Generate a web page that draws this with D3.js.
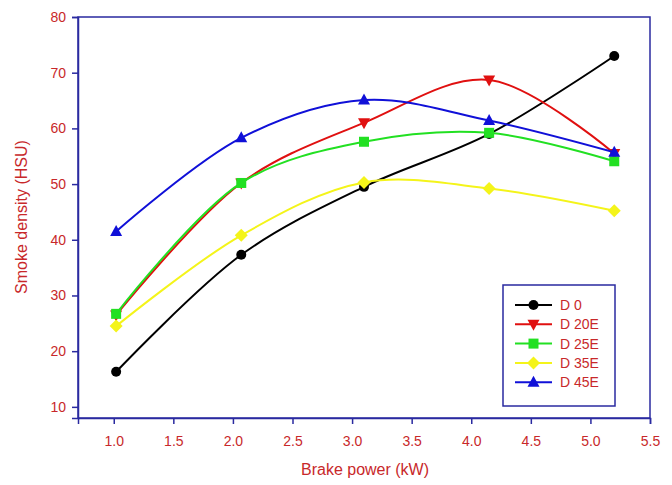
<!DOCTYPE html>
<html>
<head>
<meta charset="utf-8">
<script src="https://cdn.jsdelivr.net/npm/d3@7"></script>
<style>
  body { margin: 0; background: #fff; }
  text { font-family: "Liberation Sans", Arial, sans-serif; }
</style>
</head>
<body>
<svg id="chart"></svg>
<script>
// data
let power = [1.02, 2.07, 3.1, 4.15, 5.2]
let d0   = [16.3, 37.3, 49.5, 59.0, 73.0]
let d20e = [26.5, 50.2, 61.0, 68.7, 55.5]
let d25e = [26.7, 50.2, 57.6, 59.2, 54.1]
let d35e = [24.5, 40.8, 50.3, 49.2, 45.2]
let d45e = [41.5, 58.3, 65.1, 61.4, 55.7]
let series_names = ["D 0", "D 20E", "D 25E", "D 35E", "D 45E"]
let x_ticks = [1.0, 1.5, 2.0, 2.5, 3.0, 3.5, 4.0, 4.5, 5.0, 5.5]
let y_ticks = [10, 20, 30, 40, 50, 60, 70, 80]

let w = 672, h = 485
let axis_col = "#2a2aa0"
let label_col = "#c8282a"

let svg = d3.select("#chart").attr("width", w).attr("height", h)

let x = d3.scaleLinear().domain([0.7, 5.5]).range([78, 650])
let y = d3.scaleLinear().domain([8, 80]).range([418, 17])

// frame
svg.append("rect")
   .attr("x", x(0.7)).attr("y", y(80))
   .attr("width", x(5.5) - x(0.7)).attr("height", y(8) - y(80))
   .attr("fill", "none").attr("stroke", axis_col).attr("stroke-width", 1.5)

// axes
let x_axis = svg.append("g").attr("transform", "translate(0," + y(8) + ")")
                .call(d3.axisBottom(x).tickValues(x_ticks).tickFormat(d3.format(".1f")).tickSize(6).tickPadding(12))
let y_axis = svg.append("g").attr("transform", "translate(" + x(0.7) + ",0)")
                .call(d3.axisLeft(y).tickValues(y_ticks).tickSize(6).tickPadding(6))
for (let ax of [x_axis, y_axis]) {
  ax.select(".domain").attr("stroke", axis_col).attr("stroke-width", 1.5)
  ax.selectAll(".tick line").attr("stroke", axis_col).attr("stroke-width", 1.5)
  ax.selectAll(".tick text").attr("fill", label_col).attr("font-size", 14)
}

// axis titles
svg.append("text")
   .attr("x", 365).attr("y", 475)
   .attr("text-anchor", "middle").attr("font-size", 16).attr("fill", label_col)
   .text("Brake power (kW)")
svg.append("text")
   .attr("transform", "translate(27,217) rotate(-90)")
   .attr("text-anchor", "middle").attr("font-size", 16).attr("fill", label_col)
   .text("Smoke density (HSU)")

let all_series = [
  {name: series_names[0], vals: d0,   col: "#000000", sym: "circle"},
  {name: series_names[1], vals: d20e, col: "#e01010", sym: "down"},
  {name: series_names[2], vals: d25e, col: "#22e022", sym: "square"},
  {name: series_names[3], vals: d35e, col: "#f4f41a", sym: "diamond"},
  {name: series_names[4], vals: d45e, col: "#1010d8", sym: "up"}
]

let line = d3.line()
             .x(d => x(d[0]))
             .y(d => y(d[1]))
             .curve(d3.curveCatmullRom.alpha(0.5))

function marker(g, s, cx, cy) {
  let m
  if (s.sym === "circle") {
    m = g.append("circle").attr("cx", cx).attr("cy", cy).attr("r", 5)
  } else if (s.sym === "square") {
    m = g.append("rect").attr("x", cx - 5).attr("y", cy - 5).attr("width", 10).attr("height", 10)
  } else if (s.sym === "diamond") {
    m = g.append("path").attr("d", "M" + cx + "," + (cy - 6.5) + "L" + (cx + 6.5) + "," + cy +
                                   "L" + cx + "," + (cy + 6.5) + "L" + (cx - 6.5) + "," + cy + "Z")
  } else if (s.sym === "up") {
    m = g.append("path").attr("d", "M" + cx + "," + (cy - 6.5) + "L" + (cx + 6) + "," + (cy + 4.5) +
                                   "L" + (cx - 6) + "," + (cy + 4.5) + "Z")
  } else {
    m = g.append("path").attr("d", "M" + cx + "," + (cy + 6.5) + "L" + (cx + 6) + "," + (cy - 4.5) +
                                   "L" + (cx - 6) + "," + (cy - 4.5) + "Z")
  }
  m.attr("fill", s.col)
}

let plot = svg.append("g")
for (let s of all_series) {
  let pts = power.map((p, i) => [p, s.vals[i]])
  plot.append("path")
      .attr("d", line(pts))
      .attr("fill", "none").attr("stroke", s.col).attr("stroke-width", 2)
  for (let p of pts) marker(plot, s, x(p[0]), y(p[1]))
}

// legend
let lg = svg.append("g")
lg.append("rect")
  .attr("x", 503).attr("y", 285).attr("width", 112).attr("height", 121)
  .attr("fill", "#fff").attr("stroke", axis_col).attr("stroke-width", 1.5)
all_series.forEach((s, i) => {
  let ly = 305 + i * 19.3
  lg.append("line")
    .attr("x1", 515).attr("x2", 552).attr("y1", ly).attr("y2", ly)
    .attr("stroke", s.col).attr("stroke-width", 2)
  marker(lg, s, 533.5, ly)
  lg.append("text")
    .attr("x", 560).attr("y", ly + 5)
    .attr("font-size", 14).attr("fill", label_col)
    .text(s.name)
})
</script>
</body>
</html>
